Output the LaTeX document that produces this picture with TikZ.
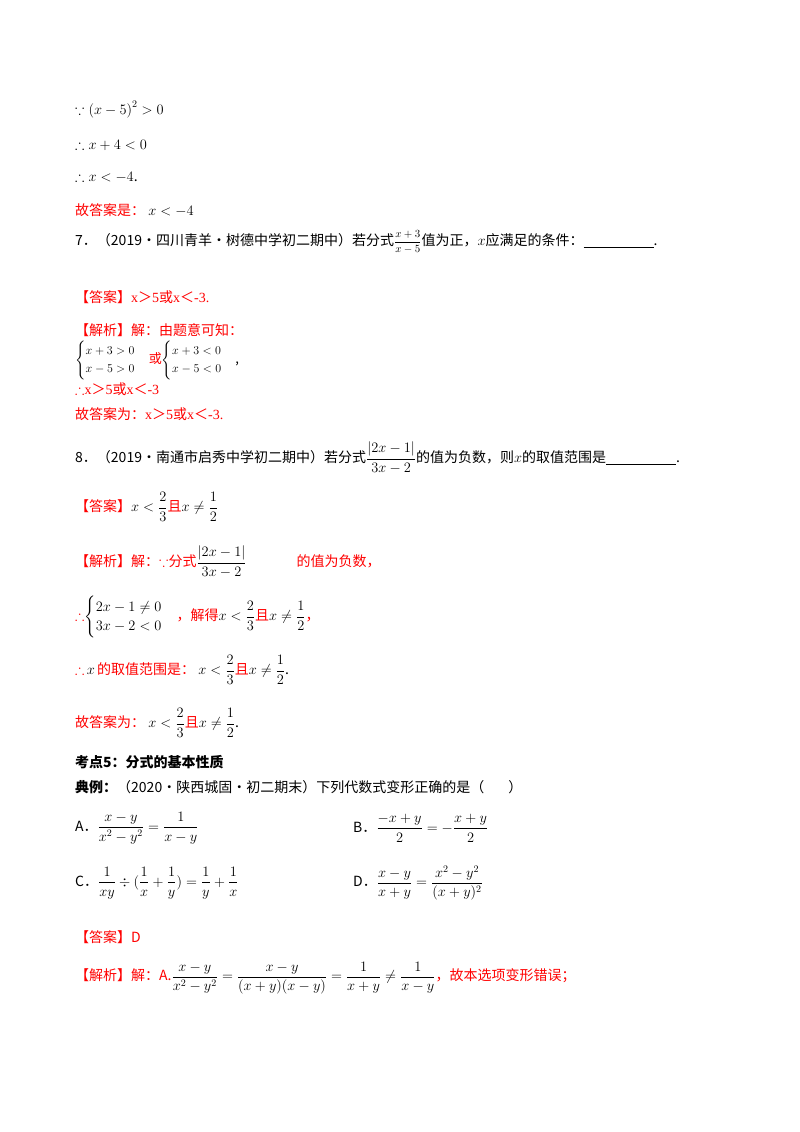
\documentclass[tikz,border=0pt]{standalone}
\usepackage{amsmath,amssymb}
\usepackage{fontspec}
\setmainfont{Noto Sans CJK SC}
\newfontfamily\tnr{Liberation Serif}
\begin{document}
\begin{tikzpicture}[x=1pt,y=-1pt,
  t/.style={anchor=west,inner sep=0pt,font=\fontsize{14}{16}\selectfont},
  r/.style={t,text=red}]
\useasboundingbox[fill=white] (0,0) rectangle (800,1132);
\node[t] (l1) at (75,110) {$\because\left(x-5\right)^2>0$};
\node[t] (l2) at (75,145) {$\therefore x+4<0$};
\node[t] (l3) at (75,177) {$\therefore x<-4$.};
\node[t] (l4) at (75,210) {\textcolor{red}{故答案是：}\ $x<-4$};
\node[t] (q7) at (75,242) {7．（2019·四川青羊·树德中学初二期中）若分式{\fontsize{11}{12}\selectfont$\dfrac{x+3}{x-5}$}值为正，$x$应满足的条件：\underline{\hspace{70pt}}.};
\node[r] (a7) at (75,297) {【答案】{\tnr x}＞{\tnr 5}或{\tnr x}＜{\tnr -3.}};
\node[r] (j7) at (75,330) {【解析】解：由题意可知：};
\node[t,font=\fontsize{13}{15}\selectfont] (s7) at (75,360) {$\begin{cases}x+3>0\\x-5>0\end{cases}$\textcolor{red}{或}$\begin{cases}x+3<0\\x-5<0\end{cases}$,};
\node[r] (c7) at (75,389) {$\therefore${\tnr x}＞{\tnr 5}或{\tnr x}＜{\tnr -3}};
\node[r] (d7) at (75,414) {故答案为：{\tnr x}＞{\tnr 5}或{\tnr x}＜{\tnr -3.}};
\node[t] (q8) at (75,458) {8．（2019·南通市启秀中学初二期中）若分式$\dfrac{|2x-1|}{3x-2}$的值为负数，则$x$的取值范围是\underline{\hspace{70pt}}.};
\node[t] (a8) at (75,507) {\textcolor{red}{【答案】}$x<\dfrac{2}{3}$\textcolor{red}{且}$x\neq\dfrac{1}{2}$};
\node[t] (j8) at (75,562) {\textcolor{red}{【解析】解：$\because$分式}$\dfrac{|2x-1|}{3x-2}$\hspace{50pt}\textcolor{red}{的值为负数，}};
\node[t] (s8) at (75,617) {\textcolor{red}{$\therefore$}$\begin{cases}2x-1\neq0\\3x-2<0\end{cases}$\textcolor{red}{，解得}$x<\dfrac{2}{3}$\textcolor{red}{且}$x\neq\dfrac{1}{2}$\textcolor{red}{，}};
\node[t] (c8) at (75,670) {\textcolor{red}{$\therefore$}\,$x$\,\textcolor{red}{的取值范围是：}\ $x<\dfrac{2}{3}$\textcolor{red}{且}$x\neq\dfrac{1}{2}$.};
\node[t] (d8) at (75,723) {\textcolor{red}{故答案为：}\ $x<\dfrac{2}{3}$\textcolor{red}{且}$x\neq\dfrac{1}{2}$.};
\node[t,font=\fontsize{14}{16}\selectfont\bfseries] (k5) at (75,762) {考点5：分式的基本性质};
\node[t] (dl) at (75,787) {\textbf{典例：}（2020·陕西城固·初二期末）下列代数式变形正确的是（\hspace{24pt}）};
\node[t] (oA) at (75,828) {A．$\dfrac{x-y}{x^2-y^2}=\dfrac{1}{x-y}$};
\node[t] (oB) at (353,828) {B．$\dfrac{-x+y}{2}=-\dfrac{x+y}{2}$};
\node[t] (oC) at (75,883) {C．$\dfrac{1}{xy}\div(\dfrac{1}{x}+\dfrac{1}{y})=\dfrac{1}{y}+\dfrac{1}{x}$};
\node[t] (oD) at (353,883) {D．$\dfrac{x-y}{x+y}=\dfrac{x^2-y^2}{(x+y)^2}$};
\node[r] (aD) at (75,937) {【答案】D};
\node[t] (jD) at (75,978) {\textcolor{red}{【解析】解：A.}$\dfrac{x-y}{x^2-y^2}=\dfrac{x-y}{(x+y)(x-y)}=\dfrac{1}{x+y}\neq\dfrac{1}{x-y}$\textcolor{red}{，故本选项变形错误；}};
\end{tikzpicture}
\end{document}
